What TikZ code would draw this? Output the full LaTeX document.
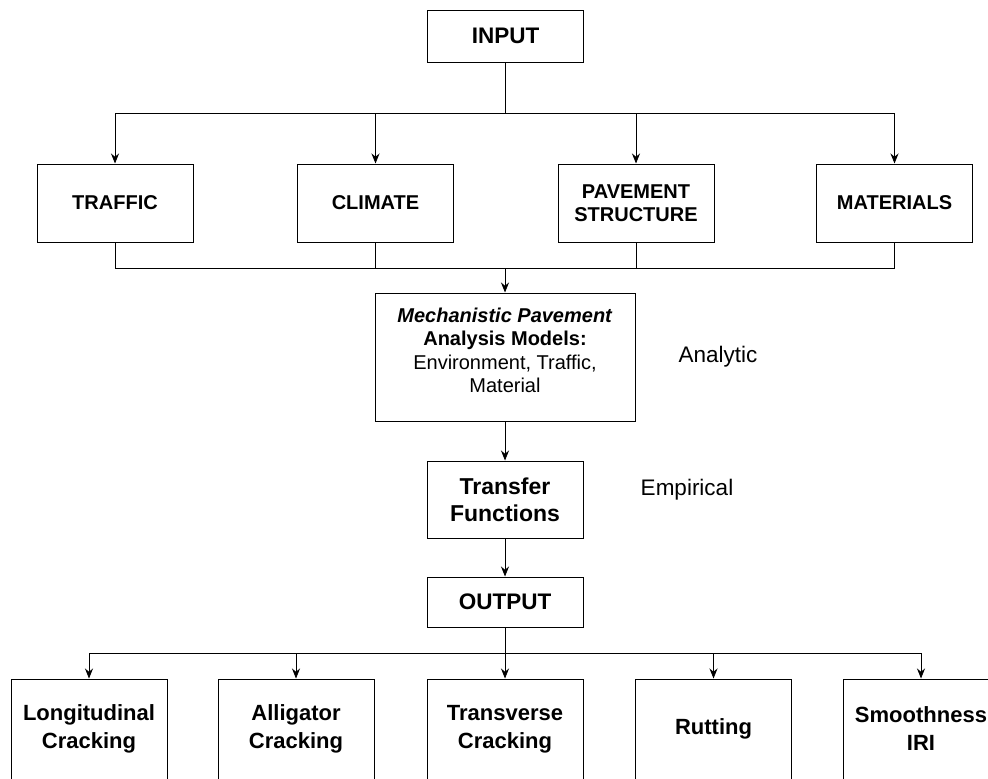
\documentclass[tikz,border=0pt]{standalone}
\usepackage{fontspec}
\setmainfont{Liberation Sans}
\usetikzlibrary{arrows.meta}
\tikzset{
  box/.style={draw,line width=1pt,minimum width=156pt,align=center,inner sep=2pt},
  topfont/.style={font=\fontsize{20}{23}\selectfont\bfseries},
  botfont/.style={font=\fontsize{22}{28}\selectfont\bfseries},
  link/.style={line width=0.8pt},
  feed/.style={link,-{Stealth[length=10pt,width=8pt]}},
  side/.style={font=\fontsize{22.5}{26}\selectfont},
}
\begin{document}
\begin{tikzpicture}[x=1pt,y=-1pt]
\useasboundingbox (0,0) rectangle (988,779);
%
\node[box,minimum height=52pt,font=\fontsize{22.5}{26}\selectfont\bfseries](input) at (505.5,36){INPUT};
\node[box,minimum height=78pt,topfont](traffic) at (115,203){TRAFFIC};
\node[box,minimum height=78pt,topfont](climate) at (375.5,203){CLIMATE};
\node[box,minimum height=78pt,topfont](pavement) at (636,203){PAVEMENT\\STRUCTURE};
\node[box,minimum height=78pt,topfont](materials) at (894.5,203){MATERIALS};
%
\node[box,minimum width=260pt,minimum height=128pt,font=\fontsize{20}{23.3}\selectfont](mech) at (505,357)
  {\textbf{\textit{Mechanistic Pavement}}\\\textbf{Analysis Models:}\\Environment, Traffic,\\Material\\[-10pt]};
\node[side](analytic) at (718,357){Analytic};
\node[box,minimum height=77pt,font=\fontsize{23}{27}\selectfont\bfseries](transfer) at (505,499.5){Transfer\\Functions};
\node[side](empirical) at (687,490){Empirical};
\node[box,minimum height=50pt,font=\fontsize{22.5}{26}\selectfont\bfseries](output) at (505,602){OUTPUT};
%
\node[box,minimum height=100pt,botfont](longit) at (89,729){Longitudinal\\Cracking};
\node[box,minimum height=100pt,botfont](alligator) at (296,729){Alligator\\Cracking};
\node[box,minimum height=100pt,botfont](transverse) at (505,729){Transverse\\Cracking};
\node[box,minimum height=100pt,botfont](rutting) at (713.5,729){Rutting};
\node[box,minimum height=100pt,botfont](smooth) at (921,729){Smoothness\\IRI};
%
\coordinate (topbus) at (0,113);
\coordinate (midbus) at (0,268);
\coordinate (botbus) at (0,653);
%
\draw[link](input.south)--(input.south|-topbus);
\draw[link](traffic.north|-topbus)--(materials.north|-topbus);
\foreach \n in {traffic,climate,pavement,materials}
  \draw[feed](\n.north|-topbus)--(\n.north);
%
\foreach \n in {traffic,climate,pavement,materials}
  \draw[link](\n.south)--(\n.south|-midbus);
\draw[link](traffic.south|-midbus)--(materials.south|-midbus);
\draw[feed](mech.north|-midbus)--(mech.north);
%
\draw[feed](mech.south)--(transfer.north);
\draw[feed](transfer.south)--(output.north);
%
\draw[link](output.south)--(output.south|-botbus);
\draw[link](longit.north|-botbus)--(smooth.north|-botbus);
\foreach \n in {longit,alligator,transverse,rutting,smooth}
  \draw[feed](\n.north|-botbus)--(\n.north);
\end{tikzpicture}
\end{document}
